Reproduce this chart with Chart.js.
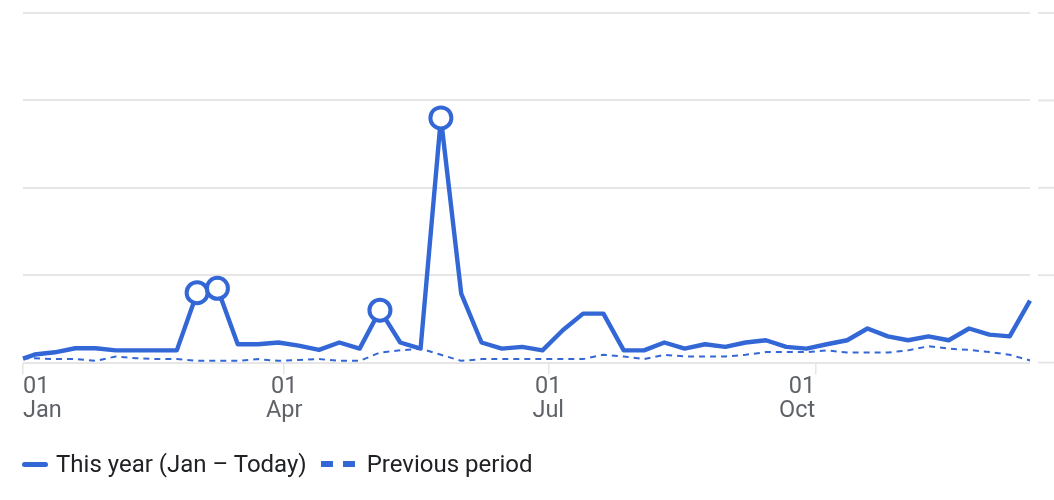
<!DOCTYPE html>
<html><head><meta charset="utf-8">
<script src="https://cdn.jsdelivr.net/npm/chart.js@4"></script>
<style>
html,body{margin:0;padding:0;background:#fff;width:1054px;height:500px;overflow:hidden}
#c{position:absolute;left:0;top:0}
#legend{position:absolute;left:22px;top:448px;height:32px;display:flex;align-items:center;font:24px Roboto,sans-serif;color:#202124;white-space:nowrap}
.solid{display:inline-block;width:26px;height:5px;border-radius:2.5px;background:#3367d6;margin-right:8px}
.dash{display:inline-block;width:12px;height:6px;background:#3367d6;margin-right:10px}
</style></head><body>
<canvas id="c" width="1054" height="500"></canvas>
<div id="legend"><span class="solid"></span><span id="l0"></span><span class="dash" style="margin-left:14px"></span><span class="dash" style="margin-right:12px;"></span><span id="l1"></span></div>
<script>
const seriesNames = ["This year (Jan – Today)", "Previous period"];
const days = [0,4,11,18,25,32,39,46,53,60,67,74,81,88,95,102,109,116,123,130,137,144,151,158,165,172,179,186,193,200,207,214,221,228,235,242,249,256,263,270,277,284,291,298,305,312,319,326,333,340,347];
const thisYear = [4.6,9.2,11.8,16.4,16.4,14,14,14,14,80,85,21,21,23,19.5,14.5,23,16,60,23,16,280,79,23,16,18,14,37,56,56,14,14,23,16,21,18,23,25.6,18,16,21,25.6,39,30,25.6,30,25.6,39,32,30,71];
const previous = [5,5,4,4,2,7,5,4,4,2,2,2,4,2,3,4,2,2,11.5,14,16,9,2,4,4,4,4,4,4,9,7,4,9,7,7,7,9,12,12,12,14,11.5,11.5,11.5,14,18.7,16,14.5,12,9,2.5];
const markerDays = [60,67,123,144];
const tickDays = [0,90,181,273];
const tickLabels = [["01","Jan"],["01","Apr"],["01","Jul"],["01","Oct"]];
const yTicks = [0,100,200,300,400];

document.getElementById('l0').textContent = seriesNames[0];
document.getElementById('l1').textContent = seriesNames[1];
const BLUE = '#3367d6', GRID = '#e6e6e6';

const stubs = {id:'stubs', afterDraw(ch){
  const c = ch.ctx, y = ch.scales.y;
  c.save(); c.strokeStyle = GRID; c.lineWidth = 2;
  y.ticks.forEach(t=>{const p=y.getPixelForValue(t.value);c.beginPath();c.moveTo(ch.chartArea.right+8,p);c.lineTo(ch.width,p);c.stroke();});
  c.restore();
}};

new Chart(document.getElementById('c'),{
  type:'line',
  data:{datasets:[
    {label:seriesNames[0],data:days.map((d,i)=>({x:d,y:thisYear[i]})),borderColor:BLUE,backgroundColor:'#fff',borderWidth:4.4,tension:0,borderJoinStyle:'round',
     pointRadius:days.map(d=>markerDays.includes(d)?10.5:0),pointBorderWidth:4,pointBorderColor:BLUE,pointBackgroundColor:'#fff',clip:false,order:1},
    {label:seriesNames[1],data:days.map((d,i)=>({x:d,y:previous[i]})),borderColor:BLUE,borderWidth:2,borderDash:[6,5],tension:0,pointRadius:0,clip:false,order:2}
  ]},
  options:{responsive:false,animation:false,
    layout:{padding:{left:23,right:24,top:13,bottom:0}},
    plugins:{legend:{display:false},tooltip:{enabled:false}},
    scales:{
      x:{type:'linear',min:0,max:347,
        afterBuildTicks(a){a.ticks=tickDays.map(v=>({value:v}));},
        afterFit(a){a.height=137.4;},
        grid:{drawOnChartArea:false,color:GRID,lineWidth:1.5,tickLength:12},
        border:{display:false},
        ticks:{autoSkip:false,maxRotation:0,align:'inner',padding:1,color:'#5f6368',font:{family:'Roboto',size:23.5,lineHeight:1.02},
          callback(v){return tickLabels[tickDays.indexOf(v)];}}
      },
      y:{min:0,max:400,
        afterBuildTicks(a){a.ticks=yTicks.map(v=>({value:v}));},
        afterFit(a){a.width=0;},
        grid:{color:GRID,lineWidth:2,drawTicks:false},
        border:{display:false},
        ticks:{display:false}
      }
    }
  },
  plugins:[stubs]
});
</script>
</body></html>
